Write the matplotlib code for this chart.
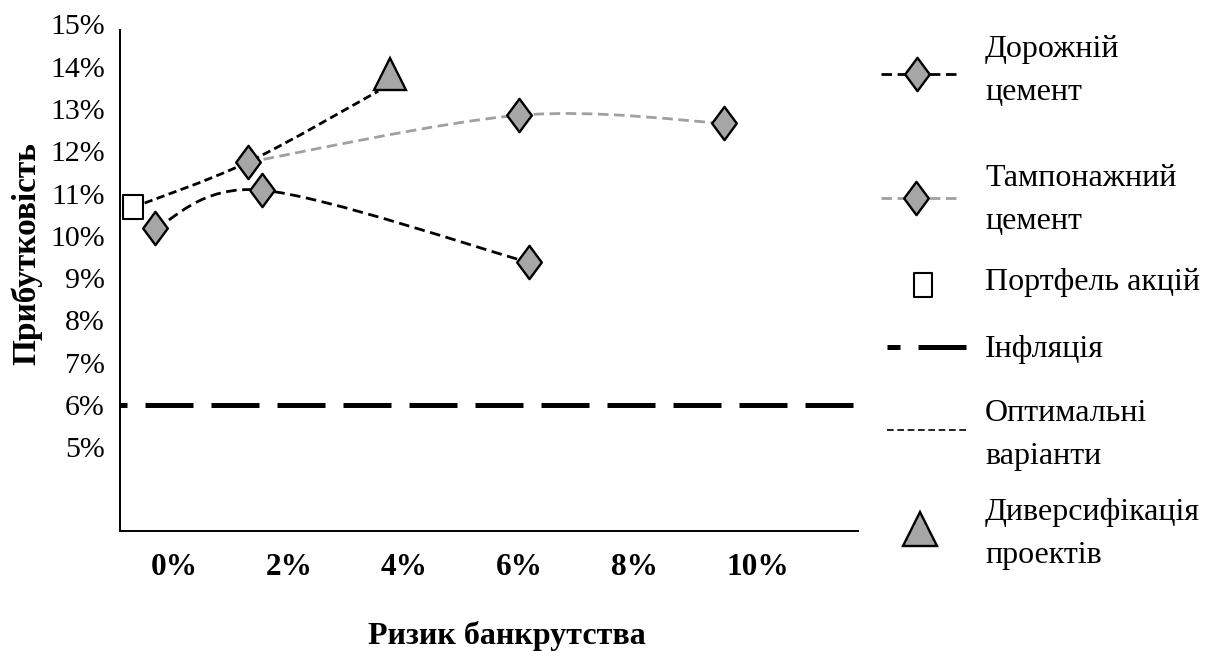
import numpy as np
import matplotlib
matplotlib.use("Agg")
import matplotlib.pyplot as plt
from matplotlib.path import Path
from matplotlib.patches import PathPatch
from matplotlib.lines import Line2D
from matplotlib.transforms import ScaledTranslation

plt.rcParams['font.family'] = ['Liberation Serif', 'DejaVu Serif']

# risk of bankruptcy (%) vs profitability (%)
road_x = [-0.31, 1.55, 6.19]
road_y = [10.18, 11.08, 9.37]
plug_x = [1.30, 6.02, 9.58]
plug_y = [11.74, 12.85, 12.66]
stock_x = [-0.70]
stock_y = [10.67]
optimal_x = [-0.70, 1.30, 3.57]
optimal_y = [10.67, 11.74, 13.42]
divers_x = [3.77]
divers_y = [13.82]
inflation = 6.0

x_ticks = [0, 2, 4, 6, 8, 10]
y_ticks = [5, 6, 7, 8, 9, 10, 11, 12, 13, 14, 15]

GREY = '#a6a6a6'
LIGHT = '#a0a0a0'
INFL_STYLE = (8.2, (9.6, 3.6))

# tall diamond and tall rectangle markers
diamond = Path([(0, 1), (0.74, 0), (0, -1), (-0.74, 0), (0, 1)],
               [Path.MOVETO, Path.LINETO, Path.LINETO, Path.LINETO, Path.CLOSEPOLY])
rect = Path([(-0.8, -1), (0.8, -1), (0.8, 1), (-0.8, 1), (-0.8, -1)],
            [Path.MOVETO, Path.LINETO, Path.LINETO, Path.LINETO, Path.CLOSEPOLY])


def smooth_path(xs, ys):
    # cubic bezier through the points, tangents parallel to the neighbours
    pts = np.column_stack([xs, ys]).astype(float)
    n = len(pts)
    verts = [pts[0]]
    codes = [Path.MOVETO]
    for i in range(n - 1):
        p0 = pts[max(i - 1, 0)]
        p1 = pts[i]
        p2 = pts[i + 1]
        p3 = pts[min(i + 2, n - 1)]
        verts += [p1 + (p2 - p0) / 6, p2 - (p3 - p1) / 6, p2]
        codes += [Path.CURVE4] * 3
    return Path(verts, codes)


W, H = 1217, 651
fig = plt.figure(figsize=(W / 100, H / 100), dpi=100)
ax = fig.add_axes([120 / W, 1 - 530.7 / H, 738 / W, 506.4 / H])

ax.set_xlim(-0.92, 11.91)
ax.set_ylim(3.03, 15)

# inflation level
ax.axhline(inflation, color='black', lw=3.6, linestyle=INFL_STYLE, zorder=1)

ax.add_patch(PathPatch(smooth_path(plug_x, plug_y), fill=False, edgecolor=LIGHT,
                       lw=2.0, linestyle=(0, (3.8, 2.0)), zorder=2))
ax.add_patch(PathPatch(smooth_path(road_x, road_y), fill=False, edgecolor='black',
                       lw=2.0, linestyle=(0, (3.8, 2.0)), zorder=2))
ax.add_patch(PathPatch(smooth_path(optimal_x, optimal_y), fill=False, edgecolor='black',
                       lw=2.0, linestyle=(0, (3.0, 1.6)), zorder=2))

ax.plot(road_x, road_y, ls='none', marker=diamond, ms=24, mfc=GREY, mec='black',
        mew=1.7, zorder=4)
ax.plot(plug_x, plug_y, ls='none', marker=diamond, ms=24, mfc=GREY, mec='black',
        mew=1.7, zorder=4)
ax.plot(stock_x, stock_y, ls='none', marker=rect, ms=17.5, mfc='white', mec='black',
        mew=1.5, zorder=4)
ax.plot(divers_x, divers_y, ls='none', marker='^', ms=23, mfc=GREY, mec='black',
        mew=1.7, zorder=4)

for side in ['top', 'right']:
    ax.spines[side].set_visible(False)
ax.spines['left'].set_bounds(3.03, 14.86)
for side in ['left', 'bottom']:
    ax.spines[side].set_linewidth(1.4)

ax.set_yticks(y_ticks)
ax.set_yticklabels([f'{v}%' for v in y_ticks], fontsize=21.5)
ax.set_xticks(x_ticks)
ax.set_xticklabels([f'{v}%' for v in x_ticks], fontsize=22.5, fontweight='bold')
ax.tick_params(axis='y', length=0, pad=11)
ax.tick_params(axis='x', length=0, pad=16)
shift = ScaledTranslation(-0.22, 0, fig.dpi_scale_trans)
for lab in ax.get_xticklabels():
    lab.set_horizontalalignment('left')
    lab.set_transform(lab.get_transform() + shift)

ax.set_xlabel('Ризик банкрутства', fontsize=23, fontweight='bold', va='center')
ax.xaxis.set_label_coords(0.524, -0.2075)
ax.set_ylabel('Прибутковість', fontsize=24, fontweight='bold', va='center')
ax.yaxis.set_label_coords(-0.127, 0.547)


# legend, drawn item by item in pixel positions
def fx(x):
    return x / W


def fy(y):
    return 1 - y / H


def key_line(x0, x1, y, **kw):
    fig.add_artist(Line2D([fx(x0), fx(x1)], [fy(y), fy(y)],
                          transform=fig.transFigure, **kw))


def key_marker(x, y, **kw):
    fig.add_artist(Line2D([fx(x)], [fy(y)], transform=fig.transFigure,
                          ls='none', **kw))


def key_text(y, s):
    fig.text(fx(985), fy(y), s, fontsize=23, va='center', ha='left',
             linespacing=1.62)


key_line(881, 960, 74, color='black', lw=2.0, linestyle=(0, (3.8, 2.0)))
key_marker(917, 74, marker=diamond, ms=24, mfc=GREY, mec='black', mew=1.7)
key_text(71, 'Дорожній\nцемент')

key_line(881, 960, 198, color=LIGHT, lw=2.0, linestyle=(0, (3.8, 2.0)))
key_marker(916, 198, marker=diamond, ms=24, mfc=GREY, mec='black', mew=1.7)
key_text(200, 'Тампонажний\nцемент')

key_marker(923, 285, marker=rect, ms=17, mfc='white', mec='black', mew=1.5)
key_text(283, 'Портфель акцій')

key_line(887, 967, 347, color='black', lw=3.6, linestyle=(7.0, (9.6, 3.6)))
key_text(349, 'Інфляція')

key_line(887, 967, 430, color='black', lw=1.2, linestyle=(0, (4.0, 2.2)))
key_text(435, 'Оптимальні\nваріанти')

key_marker(920, 529, marker='^', ms=25, mfc=GREY, mec='black', mew=1.7)
key_text(534, 'Диверсифікація\nпроектів')

fig.savefig('out.png', dpi=100)
